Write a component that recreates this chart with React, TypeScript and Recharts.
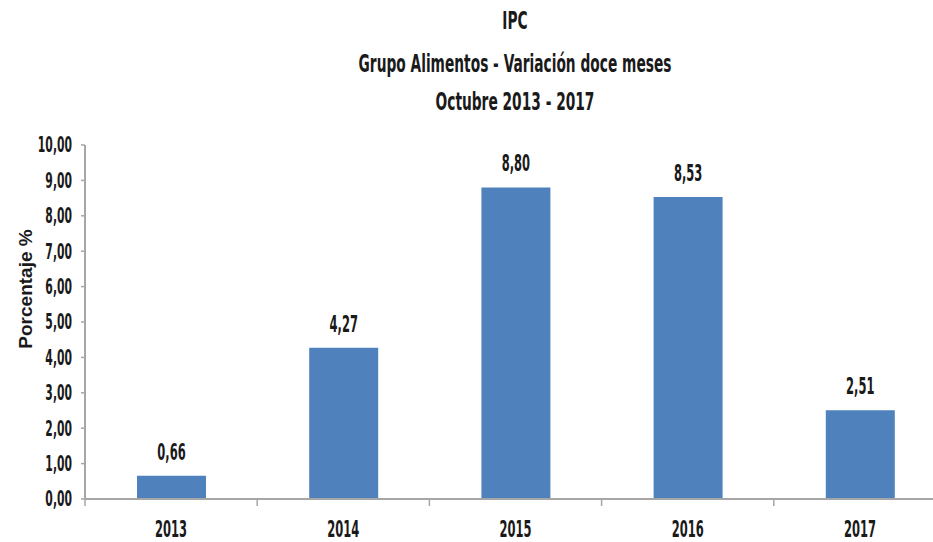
import { BarChart, Bar, XAxis, YAxis, LabelList } from 'recharts';

const YEARS = ['2013', '2014', '2015', '2016', '2017'];
const VALUES = [0.66, 4.27, 8.8, 8.53, 2.51];
const Y_TICKS = [0, 1, 2, 3, 4, 5, 6, 7, 8, 9, 10];
const TITLE_LINES = ['IPC', 'Grupo Alimentos - Variación doce meses', 'Octubre 2013 - 2017'];
const Y_LABEL = 'Porcentaje %';

const FONT = '"Liberation Sans Narrow", "Arial Narrow", "DejaVu Sans Condensed", sans-serif';
const SX = 0.8;
const SY = 1.4;
const BAR_COLOR = '#4f81bd';
const AXIS_COLOR = '#a6a6a6';
const TEXT = '#1a1a1a';

const data = YEARS.map((year, i) => ({ year, value: VALUES[i] }));

const fmt = (v: number) => v.toFixed(2).replace('.', ',');

function YTick({ x, y, payload }: any) {
  return (
    <text
      transform={`translate(${x},${y}) scale(${SX},${SY})`}
      textAnchor="end"
      dominantBaseline="central"
      fontFamily={FONT}
      fontWeight={700}
      fontSize={15}
      fill={TEXT}
    >
      {fmt(payload.value)}
    </text>
  );
}

function XTick({ x, y, payload, index }: any) {
  const half = payload.offset || 86;
  return (
    <g>
      {index === 0 && <line x1={x - half} x2={x - half} y1={y} y2={y + 7} stroke={AXIS_COLOR} strokeWidth={1.5} />}
      <line x1={x + half} x2={x + half} y1={y} y2={y + 7} stroke={AXIS_COLOR} strokeWidth={1.5} />
      <text
        transform={`translate(${x},${y + 30}) scale(${SX},${SY})`}
        textAnchor="middle"
        dominantBaseline="central"
        fontFamily={FONT}
        fontWeight={700}
        fontSize={16}
        fill={TEXT}
      >
        {payload.value}
      </text>
    </g>
  );
}

function ValueLabel({ x, y, width, value }: any) {
  return (
    <text
      transform={`translate(${x + width / 2},${y - 16}) scale(${SX},${SY})`}
      textAnchor="middle"
      fontFamily={FONT}
      fontWeight={700}
      fontSize={16}
      fill={TEXT}
    >
      {fmt(value)}
    </text>
  );
}

export default function App() {
  return (
    <div style={{ position: 'absolute', left: 0, top: 0, width: 933, height: 542, overflow: 'hidden', background: '#fff' }}>
      {TITLE_LINES.map((line, i) => (
        <div
          key={line}
          style={{
            position: 'absolute',
            left: 215,
            width: 600,
            top: [9, 52, 90][i],
            textAlign: 'center',
            fontFamily: FONT,
            fontWeight: 700,
            fontSize: 18,
            lineHeight: '24px',
            color: TEXT,
            transform: `scale(0.85, 1.38)`,
          }}
        >
          {line}
        </div>
      ))}
      <div
        style={{
          position: 'absolute',
          left: 26,
          top: 289,
          transform: 'translate(-50%, -50%) rotate(-90deg)',
          whiteSpace: 'nowrap',
          fontFamily: '"Liberation Sans", Arial, sans-serif',
          fontWeight: 700,
          fontSize: 19,
          color: TEXT,
        }}
      >
        {Y_LABEL}
      </div>
      <div style={{ position: 'absolute', left: 0, top: 0 }}>
        <BarChart width={960} height={542} data={data} margin={{ top: 145, right: 14, bottom: 13, left: 0 }}>
          <YAxis
            type="number"
            domain={[0, 10]}
            ticks={Y_TICKS}
            interval={0}
            width={85}
            tick={<YTick />}
            tickSize={4}
            tickMargin={9}
            axisLine={{ stroke: AXIS_COLOR, strokeWidth: 2 }}
            tickLine={{ stroke: AXIS_COLOR, strokeWidth: 1.5 }}
          />
          <XAxis
            dataKey="year"
            height={30}
            interval={0}
            tick={<XTick />}
            tickLine={false}
            tickSize={0}
            tickMargin={0}
            axisLine={{ stroke: AXIS_COLOR, strokeWidth: 2 }}
          />
          <Bar dataKey="value" fill={BAR_COLOR} barSize={69} isAnimationActive={false}>
            <LabelList dataKey="value" content={<ValueLabel />} />
          </Bar>
        </BarChart>
      </div>
    </div>
  );
}
